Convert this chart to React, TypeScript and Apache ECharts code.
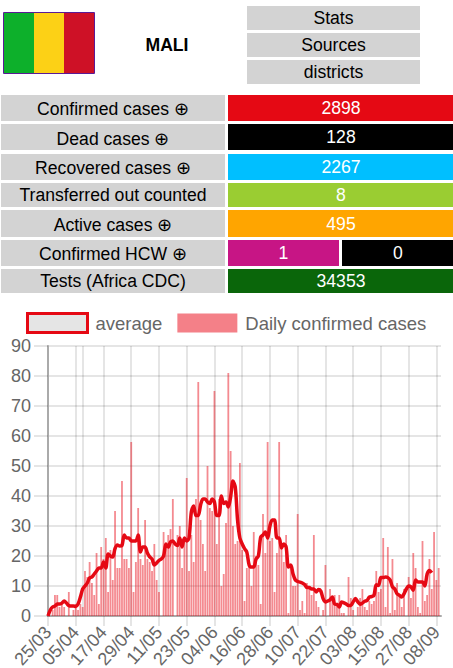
import React, { useEffect, useRef } from "react";
import * as echarts from "echarts";

const FONT = '"Liberation Sans", Arial, sans-serif';

const countryName = "MALI";
const flagColors = ["#0db02b", "#fcd116", "#ce1126"];
const navLabels = ["Stats", "Sources", "districts"];
const rowLabels = [
  "Confirmed cases ⊕",
  "Dead cases ⊕",
  "Recovered cases ⊕",
  "Transferred out counted",
  "Active cases ⊕",
  "Confirmed HCW ⊕",
  "Tests (Africa CDC)",
];
const rowValues = [["2898"], ["128"], ["2267"], ["8"], ["495"], ["1", "0"], ["34353"]];
const rowColors = [
  ["#e50914"],
  ["#000000"],
  ["#00bfff"],
  ["#9acd32"],
  ["#ffa500"],
  ["#c71585"],
  ["#000000"],
  ["#0a660a"],
];

const dailyCases = [
  0, 0, 2, 7, 7, 3, 4, 3, 0, 8, 0, 2, 4, 2, 4, 3, 15, 13, 18, 11,
  7, 21, 4, 23, 19, 26, 8, 22, 12, 35, 16, 16, 45, 19, 19, 16, 58, 8, 18, 36,
  19, 17, 32, 19, 18, 15, 24, 12, 8, 0, 28, 24, 27, 29, 39, 0, 27, 30, 16, 26,
  46, 15, 27, 18, 39, 78, 32, 24, 15, 50, 36, 35, 75, 24, 39, 10, 14, 31, 81, 55,
  30, 24, 25, 51, 22, 5, 16, 17, 10, 28, 20, 17, 4, 34, 21, 58, 25, 26, 8, 21,
  58, 24, 18, 27, 1, 16, 10, 10, 34, 2, 5, 1, 11, 9, 7, 27, 5, 3, 0, 2,
  17, 0, 9, 6, 7, 4, 7, 1, 1, 0, 13, 6, 2, 0, 3, 6, 9, 3, 2, 5,
  4, 5, 15, 8, 9, 26, 3, 23, 1, 19, 2, 11, 7, 3, 9, 0, 13, 6, 21, 16,
  3, 1, 25, 5, 7, 19, 9, 28, 12, 16,
];
const averageCases = [
  0, 2, 3, 3.3, 4, 4, 4.3, 5, 4.3, 3.5, 3.3, 3.3, 3.2, 4, 6.3, 9, 10, 11, 12.7, 13,
  14, 15, 16, 16, 18, 16, 20.7, 20, 19.7, 22.5, 23.7, 23.3, 23.5, 27, 26, 26, 25, 25, 25, 27,
  21.3, 23, 23, 21, 19.7, 19, 17, 17.7, 18.5, 19, 20, 24, 23, 24.7, 25, 24, 23.5, 26, 23, 26,
  25, 26, 34.7, 36.7, 33.5, 33.5, 37, 39, 39, 38, 37.5, 39, 38, 33.5, 33.5, 40, 37.5, 38, 36.3, 39.7,
  45, 43, 32, 26, 24, 22.5, 21.3, 17, 16.3, 16.3, 19, 20, 26.3, 27, 28, 26, 30, 32, 32, 26,
  26, 22.7, 24, 23, 16.3, 17, 14, 12, 11.5, 11.3, 11, 10.5, 9.5, 9.5, 9, 9, 8, 8.8, 8.3, 5.8,
  4.7, 5, 5.4, 6.3, 4, 3.9, 3, 4.7, 4.4, 4, 3.5, 3.5, 4.7, 5.8, 4.7, 3.9, 4.3, 4.9, 5.2, 6.3,
  6.5, 6.9, 10.4, 10.2, 12.8, 12.8, 13, 12.8, 12, 9.7, 9, 7.4, 6.9, 6.3, 7.4, 9, 10, 9.7, 8.6, 12,
  11.3, 11.3, 11.3, 10, 14, 15.2, 14.4,
];

// The source's first date appears twice; every other category is one day later.
const categoryCount = 171;
const categories: string[] = [];
for (let i = 0; i < categoryCount; i++) {
  const d = new Date(Date.UTC(2020, 2, 25 + Math.max(0, i - 1)));
  const dd = String(d.getUTCDate()).padStart(2, "0");
  const mm = String(d.getUTCMonth() + 1).padStart(2, "0");
  categories.push(`${dd}/${mm}`);
}
const extraGridIndex = 15;

const grey = "#666666";
const gridColor = "rgba(0,0,0,0.1)";

function buildGraphics() {
  const g: any[] = [];
  const text = (x: number, y: number, t: string, fill: string, font: any = {}) =>
    g.push({
      type: "text",
      x,
      y,
      silent: true,
      style: {
        text: t,
        fill,
        fontFamily: FONT,
        fontSize: 17.6,
        align: "center",
        verticalAlign: "middle",
        ...font,
      },
    });
  const rect = (x: number, y: number, w: number, h: number, fill: string, extra: any = {}) =>
    g.push({ type: "rect", silent: true, shape: { x, y, width: w, height: h }, style: { fill, ...extra } });

  // flag
  const flagX = [4, 34, 64];
  flagColors.forEach((c, i) => rect(flagX[i], 13, 30, 60, c));
  rect(3.5, 12.5, 91, 61, "none", { stroke: "#5a1a96", lineWidth: 1 });

  text(167, 45, countryName, "#000", { fontWeight: "bold" });

  const navTop = [6, 33, 60];
  navLabels.forEach((t, i) => {
    rect(247, navTop[i], 173, 24, "#d3d3d3");
    text(333.5, navTop[i] + 12, t, "#000");
  });

  const rowTop = [95, 124, 154, 183, 210, 240, 269];
  const rowH = [26, 26, 26, 24, 27, 26, 24];
  const labelNudge = [0.5, 1.5, 0.5, 0, 1.5, 1, 0];
  rowLabels.forEach((t, i) => {
    rect(1, rowTop[i], 224, rowH[i], "#d3d3d3");
    text(113, rowTop[i] + rowH[i] / 2 + labelNudge[i], t, "#000");
    if (rowValues[i].length === 1) {
      const c = i === 6 ? rowColors[7][0] : rowColors[i][0];
      rect(228, rowTop[i], 225, rowH[i], c);
      text(341, rowTop[i] + rowH[i] / 2, rowValues[i][0], "#fff");
    } else {
      rect(228, rowTop[i], 111, rowH[i], rowColors[5][0]);
      rect(342, rowTop[i], 111, rowH[i], rowColors[6][0]);
      text(283.5, rowTop[i] + rowH[i] / 2, rowValues[i][0], "#fff");
      text(398, rowTop[i] + rowH[i] / 2, rowValues[i][1], "#fff");
    }
  });
  return g;
}

export default function App() {
  const ref = useRef<HTMLDivElement>(null);
  useEffect(() => {
    document.body.style.margin = "0";
    const chart = echarts.init(ref.current!, undefined, { renderer: "svg" });
    chart.setOption({
      animation: false,
      backgroundColor: "#fff",
      textStyle: { fontFamily: FONT },
      graphic: { elements: buildGraphics() },
      legend: {
        left: 26,
        top: 312,
        padding: 0,
        itemWidth: 60,
        itemHeight: 19,
        itemGap: 15,
        selectedMode: false,
        data: [
          {
            name: "average",
            icon: "rect",
            itemStyle: { color: "#e5e5e5", borderColor: "#e50914", borderWidth: 3 },
          },
          { name: "Daily confirmed cases", icon: "rect", itemStyle: { color: "#f48088" } },
        ],
        textStyle: { color: grey, fontSize: 18.5, fontFamily: FONT, padding: [0, 0, 2, 3] },
      },
      grid: { left: 48, top: 346, width: 393, height: 270, containLabel: false, outerBoundsMode: "none" },
      xAxis: {
        type: "category",
        data: categories,
        boundaryGap: false,
        axisLine: { show: true, lineStyle: { color: "#aaaaaa", width: 2 } },
        axisTick: {
          show: true,
          interval: 11,
          length: 10,
          alignWithLabel: true,
          lineStyle: { color: gridColor, width: 2 },
        },
        splitLine: { show: true, interval: 11, lineStyle: { color: gridColor, width: 2 } },
        axisLabel: {
          interval: 11,
          rotate: 48,
          color: grey,
          fontSize: 18,
          fontFamily: FONT,
          margin: 13,
          hideOverlap: false,
        },
      },
      yAxis: {
        type: "value",
        min: 0,
        max: 90,
        interval: 10,
        axisLine: { show: true, lineStyle: { color: "#aaaaaa", width: 2 } },
        axisTick: { show: true, length: 14, lineStyle: { color: gridColor, width: 2 } },
        splitLine: { show: true, lineStyle: { color: gridColor, width: 2 } },
        axisLabel: { color: grey, fontSize: 18, fontFamily: FONT, margin: 17 },
      },
      series: [
        {
          name: "Daily confirmed cases",
          type: "bar",
          data: dailyCases,
          barWidth: 1.8,
          itemStyle: { color: "rgba(232,10,22,0.48)" },
          z: 2,
          markLine: {
            silent: true,
            symbol: "none",
            label: { show: false },
            lineStyle: { color: gridColor, width: 2, type: "solid" },
            data: [{ xAxis: extraGridIndex }],
            z: 1,
          },
        },
        {
          name: "average",
          type: "line",
          data: averageCases,
          smooth: 0.3,
          showSymbol: false,
          symbol: "none",
          lineStyle: { color: "#e50914", width: 3.5 },
          itemStyle: { color: "#e50914" },
          z: 3,
        },
      ],
    });
    return () => chart.dispose();
  }, []);
  return <div ref={ref} style={{ width: 453, height: 668 }} />;
}
